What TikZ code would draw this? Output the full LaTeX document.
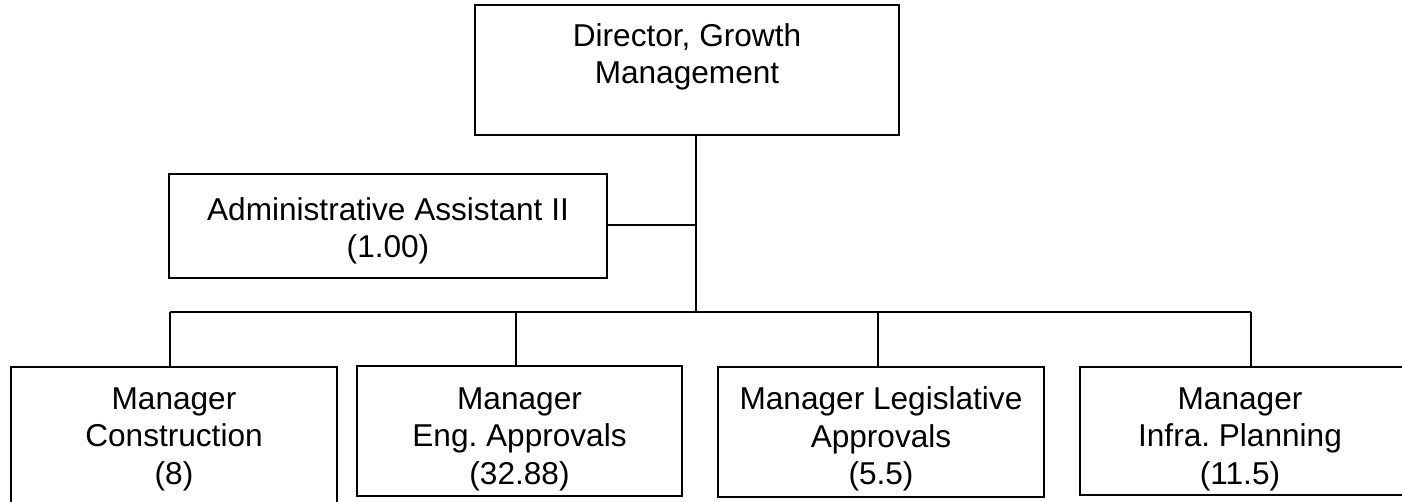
\documentclass[tikz,border=0pt]{standalone}
\usepackage{fontspec}
\setmainfont{Liberation Sans}
\frenchspacing
\begin{document}
\begin{tikzpicture}[x=0.5pt,y=-0.5pt,
  box/.style={draw=black,line width=1pt,rectangle,inner sep=0pt},
  lbl/.style={align=center,inner sep=0pt,font=\fontsize{15.8}{18.7}\selectfont},
  conn/.style={draw=black,line width=1pt}]
\useasboundingbox (0,0) rectangle (1402,502);
\clip (0,0) rectangle (1402,502);
% boxes
\node[box,minimum width=212pt,minimum height=65pt] (dir) at (687,70) {};
\node[box,minimum width=219pt,minimum height=52pt] (adm) at (388,226) {};
\node[box,minimum width=163pt,minimum height=86.5pt] (b1) at (174,453.5) {};
\node[box,minimum width=162.5pt,minimum height=65pt] (b2) at (519.5,431) {};
\node[box,minimum width=163pt,minimum height=65pt] (b3) at (881,431.5) {};
\node[box,minimum width=170pt,minimum height=64pt] (b4) at (1250,431) {};
% labels
\node[lbl] (tdir) at (687,57) {Director, Growth\\Management};
\node[lbl] (tadm) at (388,231) {Administrative Assistant II\\(1.00)};
\node[lbl] (tb1) at (174,439) {Manager\\Construction\\(8)};
\node[lbl] (tb2) at (519.5,439) {Manager\\Eng. Approvals\\(32.88)};
\node[lbl] (tb3) at (881,439) {Manager Legislative\\Approvals\\(5.5)};
\node[lbl] (tb4) at (1240,439) {Manager\\Infra. Planning\\(11.5)};
% connector points
\coordinate (j) at (696,312);
\coordinate (aj) at (696,225);
\coordinate (p1) at (170,312);
\coordinate (p2) at (516,312);
\coordinate (p3) at (878,312);
\coordinate (p4) at (1251,312);
% connectors
\draw[conn] (dir.south -| j) -- (j);
\draw[conn] (adm.east |- aj) -- (aj);
\draw[conn] (p1) -- (p4);
\draw[conn] (p1) -- (p1 |- b1.north);
\draw[conn] (p2) -- (p2 |- b2.north);
\draw[conn] (p3) -- (p3 |- b3.north);
\draw[conn] (p4) -- (p4 |- b4.north);
\end{tikzpicture}
\end{document}
